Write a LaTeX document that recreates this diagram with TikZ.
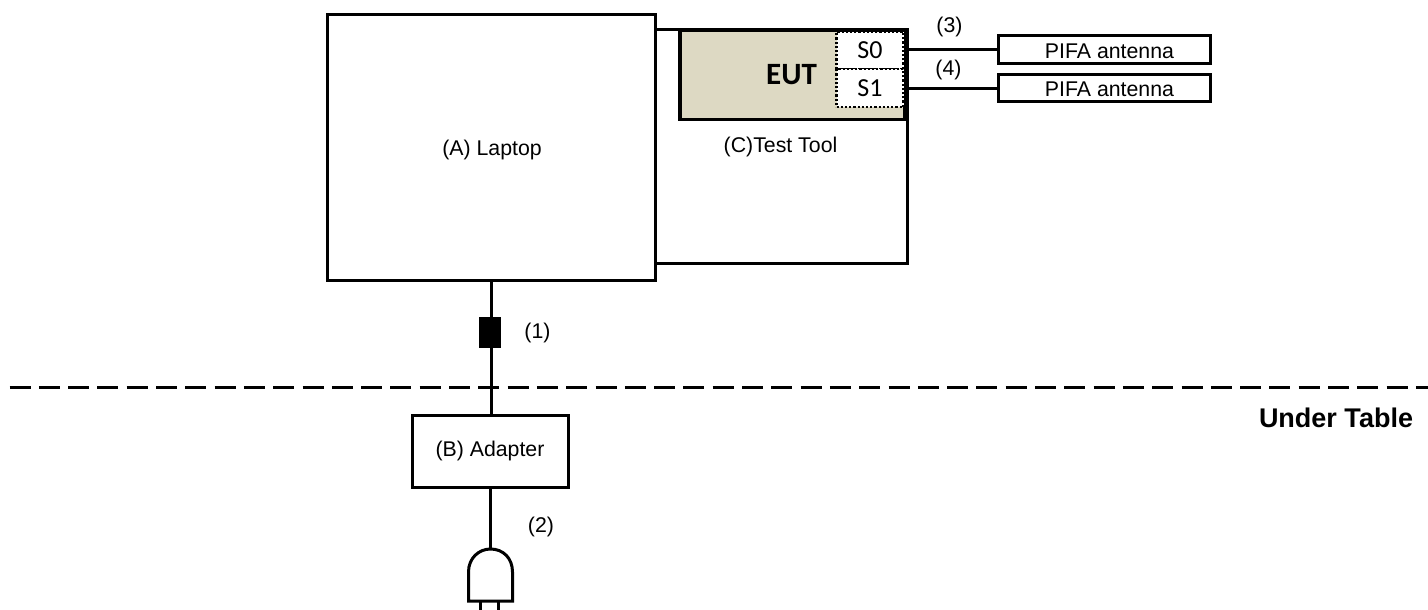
\documentclass[tikz,border=0pt]{standalone}
\usepackage{fontspec}
\setmainfont{Liberation Sans}
\newfontfamily\carl{Carlito}
\tikzset{
  x=1pt,y=-1pt,
  wire/.style={line width=3pt,draw=black},
  thin wire/.style={line width=2.6pt,draw=black},
  box/.style={draw=black,line width=3pt,fill=white,rectangle,inner sep=0pt,outer sep=0pt},
  lbl/.style={font=\fontsize{21.3}{25}\selectfont,inner sep=0pt,text=black},
  eutbox/.style={draw=black,line width=3.2pt,fill=eutfill,rectangle,inner sep=0pt,outer sep=0pt},
  port/.style={draw=black,line width=2.2pt,dotted,fill=white,rectangle,inner sep=0pt,outer sep=0pt,font=\carl\fontsize{26}{30}\selectfont},
  sepline/.style={line width=3pt,draw=black,dash pattern=on 21pt off 8.3pt},
}
\definecolor{eutfill}{HTML}{DDD9C3}
\begin{document}
\begin{tikzpicture}
\useasboundingbox (0,0) rectangle (1428,610);
% separator
\coordinate (dashL) at (9.5,387.5);
\coordinate (dashR) at (1428,387.5);
\draw[sepline] (dashL) -- (dashR);
% test tool outline
\node[box,minimum width=252pt,minimum height=233pt] (tool) at (781,146.5) {};
% laptop
\node[box,minimum width=328pt,minimum height=265pt] (laptop) at (491,147.5) {};
% EUT
\node[eutbox,minimum width=225pt,minimum height=89pt] (eut) at (792.5,75) {};
\node[port,minimum width=67pt,minimum height=37pt] (s0) at (870,50.5) {S0};
\node[port,minimum width=67pt,minimum height=38pt] (s1) at (870,88) {S1};
\node[inner sep=0pt,font=\carl\bfseries\fontsize{31}{35}\selectfont] (eutl) at (791.5,75) {EUT};
% antennas
\node[box,minimum width=212pt,minimum height=28pt] (ant0) at (1104,49.5) {};
\node[box,minimum width=212pt,minimum height=27pt] (ant1) at (1104,88.5) {};
\node[lbl] (ant0t) at (1109.5,51) {PIFA antenna};
\node[lbl] (ant1t) at (1109.5,89.5) {PIFA antenna};
\draw[wire] (s0.east |- ant0.west) -- (ant0.west);
\draw[wire] (s1.east |- ant1.west) -- (ant1.west);
% adapter
\node[box,minimum width=156pt,minimum height=72pt,lbl] (adapter) at (490,451) {(B) Adapter};
% cable with ferrite
\coordinate (lapout) at (491.5,280);
\node[fill=black,draw=none,inner sep=0pt,outer sep=0pt,minimum width=22pt,minimum height=31pt] (ferrite) at (490,332.5) {};
\draw[wire] (lapout) -- (ferrite.north -| lapout);
\draw[wire] (ferrite.south -| lapout) -- (adapter.north -| lapout);
% plug
\coordinate (plugtop) at (490.5,549);
\draw[wire] (adapter.south -| plugtop) -- (plugtop);
\draw[wire,fill=white,line join=miter] (468.5,601) -- (468.5,572) .. controls (468.5,558) and (479,549) .. (plugtop) .. controls (503,549) and (512.5,558) .. (512.5,572) -- (512.5,601) -- cycle;
\coordinate (prongA) at (480.5,601);
\coordinate (prongB) at (498.5,601);
\draw[thin wire] (prongA) -- ++(0,9);
\draw[thin wire] (prongB) -- ++(0,9);
% labels
\node[lbl] (la) at (492,150) {(A) Laptop};
\node[lbl] (lc) at (780.5,147) {(C)Test Tool};
\node[lbl] (l1) at (537.5,332.5) {(1)};
\node[lbl] (l2) at (541,527) {(2)};
\node[lbl] (l3) at (949.5,27) {(3)};
\node[lbl] (l4) at (948.5,70) {(4)};
\node[lbl,font=\bfseries\fontsize{27}{31}\selectfont] (ut) at (1336,418) {Under Table};
\end{tikzpicture}
\end{document}
